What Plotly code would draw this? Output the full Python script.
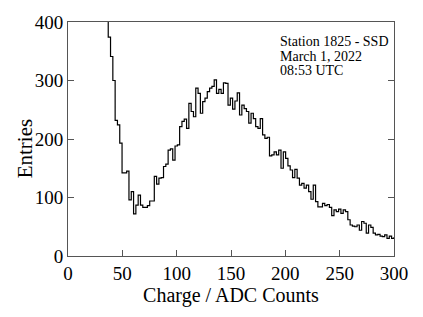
import numpy as np
import plotly.graph_objects as go

# Histogram: charge spectrum (counts per bin), first bin is above the axis range
bin_start = 34.9
bin_width = 2.12
counts = [450, 374, 341, 300, 232, 224, 193, 142, 142, 145, 96, 110, 72, 87, 104, 87, 83, 83, 86, 94, 94,
          136, 123, 133, 134, 153, 157, 181, 183, 164, 188, 190, 221, 230, 234, 218, 261, 247, 238,
          287, 278, 244, 264, 270, 281, 287, 290, 301, 278, 285, 278, 296, 295, 258, 270, 251, 265, 279,
          241, 258, 252, 247, 227, 244, 235, 221, 218, 235, 207, 201, 203, 171,
          173, 178, 173, 181, 150, 178, 167, 154, 147, 134, 148, 133, 121, 124, 116, 121, 110, 97, 121,
          93, 84, 84, 90, 86, 88, 83, 69, 79, 76, 80, 73, 79, 76, 62, 53, 51, 50, 53, 44, 59, 56, 39,
          53, 49, 39, 36, 37, 34, 33, 36, 30, 34, 30, 31]

x_ticks = [0, 50, 100, 150, 200, 250, 300]
y_ticks = [0, 100, 200, 300, 400]
info_lines = ["Station 1825 - SSD", "March 1, 2022", "08:53 UTC"]
info_y = [0.915, 0.851, 0.791]

edges = bin_start + bin_width * np.arange(len(counts) + 1)
xs = list(edges)
ys = counts + [counts[-1]]

FONT = "Liberation Serif"

fig = go.Figure()
fig.add_trace(go.Scatter(x=xs, y=ys, mode="lines", line=dict(shape="hv", color="black", width=1.2),
                         showlegend=False, hoverinfo="skip"))

annotations = [dict(
    x=0.643, y=yy, xref="paper", yref="paper", xanchor="left", yanchor="middle",
    text=t, showarrow=False, align="left",
    font=dict(family=FONT, size=14, color="black")) for t, yy in zip(info_lines, info_y)]
annotations.append(dict(
    x=-0.132, y=0.46, xref="paper", yref="paper", xanchor="center", yanchor="middle",
    text="Entries", textangle=-90, showarrow=False,
    font=dict(family=FONT, size=21, color="black")))

fig.update_layout(
    width=423, height=317,
    margin=dict(l=68, r=29, t=22, b=61),
    paper_bgcolor="white", plot_bgcolor="white",
    font=dict(family=FONT, size=19, color="black"),
    annotations=annotations,
)
fig.update_xaxes(
    range=[0, 300], tickvals=x_ticks, ticks="inside", ticklen=6, tickcolor="#555",
    showline=True, linecolor="#555", linewidth=1, mirror=True, showgrid=False, zeroline=False,
    automargin=False, tickfont=dict(family=FONT, size=19),
    title=dict(text="Charge / ADC Counts", font=dict(family=FONT, size=20), standoff=1),
)
fig.update_yaxes(
    range=[0, 400], tickvals=y_ticks, ticks="inside", ticklen=6, tickcolor="#555",
    showline=True, linecolor="#555", linewidth=1, mirror="ticks", showgrid=False, zeroline=False,
    automargin=False, tickfont=dict(family=FONT, size=19),
)

fig.write_html("out.html", config={"displayModeBar": False},
               post_script="document.body.style.margin='0';document.body.style.overflow='hidden';")
